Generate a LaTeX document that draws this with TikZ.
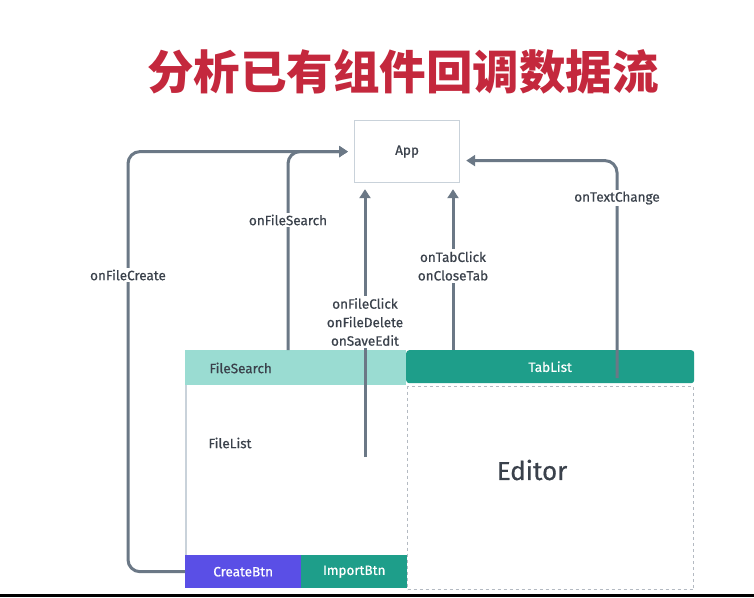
\documentclass[tikz,border=0pt]{standalone}
\usepackage{fontspec}
\setmainfont{Fira Sans}
\newfontfamily\medfont{Fira Sans}[FakeBold=0.5]
\newfontfamily\cjk{Noto Sans CJK SC}
\usetikzlibrary{arrows.meta}
\definecolor{titlered}{HTML}{C4283D}
\definecolor{wire}{HTML}{6B7886}
\definecolor{lbl}{HTML}{3A414B}
\definecolor{appborder}{HTML}{C9D2DA}
\definecolor{lightteal}{HTML}{9ADCD2}
\definecolor{teal}{HTML}{1E9E8A}
\definecolor{violet}{HTML}{5A4FE6}
\definecolor{dashgray}{HTML}{B4BAC2}
\tikzset{
  wireline/.style={draw=wire, line width=3pt, rounded corners=12pt, -{Triangle[length=9pt,width=11pt]}, shorten >=6pt},
  lbltext/.style={fill=white, text=lbl, font=\medfont\fontsize{13.5}{18.5}\selectfont, align=center, inner sep=2pt},
  boxtext/.style={font=\medfont\fontsize{13.5}{15}\selectfont},
}
\begin{document}
\begin{tikzpicture}[x=1pt,y=-1pt]
\useasboundingbox (0,0) rectangle (754,597);
\fill[white] (0,0) rectangle (754,597);
\fill[black] (0,594) rectangle (754,597);

% title
\node[text=titlered, font=\cjk\bfseries\fontsize{46.5}{50}\selectfont] (title) at (403,72) {分析已有组件回调数据流};

% App
\node[draw=appborder, line width=1.2pt, minimum width=105pt, minimum height=62pt, anchor=north west, text=lbl, boxtext] (app) at (354,120) {App};

% left panel
\node[fill=lightteal, minimum width=221pt, minimum height=35pt, anchor=north west, inner sep=0pt] (filesearch) at (185,350) {};
\node[text=lbl, boxtext, anchor=west] (fstext) at (206,368) {FileSearch};
\draw[draw=appborder, line width=1.5pt] (186,385) -- (186,588);
\node[text=lbl, boxtext, anchor=west] (filelist) at (205,443) {FileList};
\node[fill=violet, minimum width=116pt, minimum height=33pt, anchor=north west, inner sep=0pt, text=white, boxtext] (create) at (185,555) {CreateBtn};
\node[fill=teal, minimum width=106pt, minimum height=33pt, anchor=north west, inner sep=0pt, text=white, boxtext] (import) at (301,555) {ImportBtn};

% right panel
\node[fill=teal, rounded corners=3pt, minimum width=288pt, minimum height=33pt, anchor=north west, inner sep=0pt, text=white, boxtext] (tablist) at (406,350) {TabList};
\node[draw=dashgray, dashed, line width=1.2pt, minimum width=286pt, minimum height=203pt, anchor=north west, inner sep=0pt] (editorbox) at (407,386) {};
\node[text=lbl, font=\medfont\fontsize{26}{30}\selectfont] (editor) at (532,470) {Editor};

% connectors
\coordinate (fcstart) at (365,457);
\coordinate (tcstart) at (617,378);
\draw[wireline] (create.west) -- ++(-57,0) |- (app.west);
\draw[wireline] (filesearch.north -| 288,0) |- (app.west);
\draw[wireline] (fcstart) -- (app.south -| fcstart);
\draw[wireline] (tablist.north -| 453,0) -- (app.south -| 453,0);
\draw[wireline] (tcstart) |- ([yshift=-9pt]app.east);

% labels
\node[lbltext] (lcreate) at (128,275) {onFileCreate};
\node[lbltext] (lsearch) at (288,220) {onFileSearch};
\node[lbltext] (lclick) at (365,322) {onFileClick\\onFileDelete\\onSaveEdit};
\node[lbltext] (ltab) at (453,266) {onTabClick\\onCloseTab};
\node[lbltext] (ltext) at (617,198) {onTextChange};
\end{tikzpicture}
\end{document}
